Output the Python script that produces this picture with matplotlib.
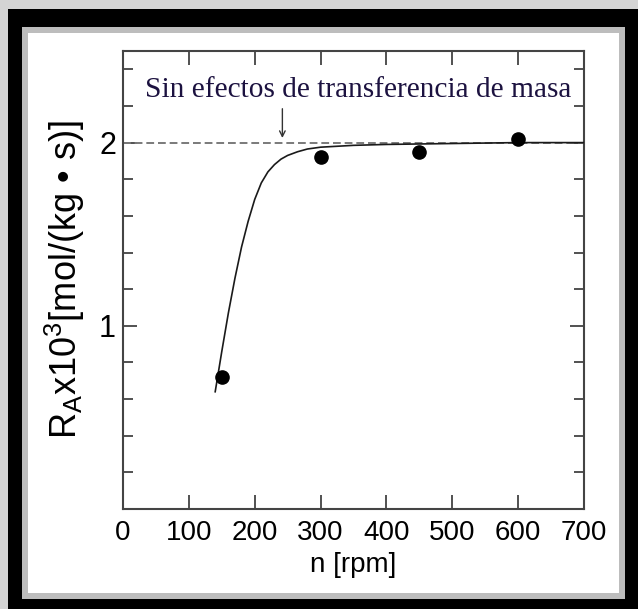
import matplotlib
matplotlib.use("Agg")
import matplotlib.pyplot as plt
from matplotlib.patches import Rectangle
from matplotlib.ticker import MultipleLocator

# ---- data ----
n_points = [150, 300, 450, 600]
ra_points = [0.72, 1.92, 1.95, 2.02]

curve_n = [140, 150, 160, 170, 180, 190, 200, 210, 220, 230, 240, 250,
           265, 280, 300, 350, 400, 500, 600, 700]
curve_ra = [0.64, 0.86, 1.07, 1.26, 1.43, 1.57, 1.69, 1.78, 1.84, 1.88,
            1.91, 1.93, 1.95, 1.965, 1.975, 1.985, 1.99, 1.995, 2.0, 2.0]

limit_value = 2.0
x_ticks = [0, 100, 200, 300, 400, 500, 600, 700]
y_major = [1, 2]
annotation = "Sin efectos de transferencia de masa"
xlabel = "n [rpm]"
ylabel = r"R$_\mathregular{A}$x10$^\mathregular{3}$[mol/(kg • s)]"

plt.rcParams['mathtext.fontset'] = 'custom'
plt.rcParams['mathtext.rm'] = 'Liberation Sans'
plt.rcParams['mathtext.it'] = 'Liberation Sans:italic'

W, H = 638, 609
fig = plt.figure(figsize=(W / 100, H / 100), dpi=100)
fig.patch.set_facecolor('#d4d4d4')


def rect_px(x0, y0, x1, y1, color):
    fig.add_artist(Rectangle((x0 / W, 1 - y1 / H), (x1 - x0) / W, (y1 - y0) / H,
                             transform=fig.transFigure, facecolor=color,
                             edgecolor='none', zorder=0))


rect_px(8, 9, W, H, '#000000')
rect_px(22, 27, 625, 599, '#bdbdbd')
rect_px(28, 33, 619, 593, '#ffffff')

ax_l, ax_r, ax_t, ax_b = 123, 584, 51, 509
ax = fig.add_axes([ax_l / W, 1 - ax_b / H, (ax_r - ax_l) / W, (ax_b - ax_t) / H])
ax.set_facecolor('white')
ax.set_xlim(0, 700)
ax.set_ylim(0, 2.5)

ax.axhline(limit_value, color='#7a7a7a', lw=1.4, dashes=(4, 2), zorder=2)
ax.plot(curve_n, curve_ra, color='#1a1a1a', lw=1.2, zorder=3)
ax.plot(n_points, ra_points, 'o', color='black', ms=9.5, zorder=4)

ax.set_xticks(x_ticks)
ax.set_yticks(y_major)
ax.yaxis.set_minor_locator(MultipleLocator(0.2))
ax.tick_params(axis='both', which='both', direction='in', top=True, right=True,
               colors='#333333', labelcolor='black', labelsize=20)
ax.tick_params(axis='x', which='major', length=10, width=1.2, pad=8)
ax.tick_params(axis='y', which='major', length=10, width=1.2, pad=5, labelsize=22)
ax.tick_params(axis='y', which='minor', length=7, width=1.2)
for lab in ax.get_xticklabels() + ax.get_yticklabels():
    lab.set_fontfamily('Liberation Sans')
for s in ax.spines.values():
    s.set_color('#444444')
    s.set_linewidth(1.5)

ax.set_xlabel(xlabel, fontsize=20, family='Liberation Sans', labelpad=4)
ax.set_ylabel(ylabel, fontsize=26, family='Liberation Sans', labelpad=9)

ax.text(357, 2.287, annotation, family='Liberation Serif', fontsize=21.2,
        color='#1c1240', ha='center', va='center', zorder=5)
ax.annotate('', xy=(242, 2.01), xytext=(242, 2.2),
            arrowprops=dict(arrowstyle='->', lw=1.0, color='#333333',
                            mutation_scale=10), zorder=5)

fig.savefig('out.png', dpi=100, facecolor=fig.get_facecolor())
